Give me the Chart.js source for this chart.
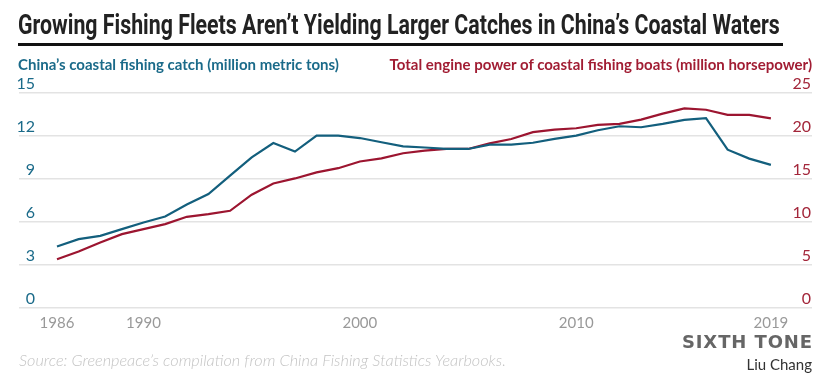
<!DOCTYPE html>
<html>
<head>
<meta charset="utf-8">
<script src="https://cdn.jsdelivr.net/npm/chart.js@4.4.1/dist/chart.umd.min.js"></script>
<style>
  html, body { margin: 0; padding: 0; background: #fff; }
  body { width: 830px; height: 385px; position: relative; overflow: hidden; font-family: Lato, sans-serif; }
  #title { position: absolute; left: 18px; top: 8px; font-family: Roboto, sans-serif; font-weight: bold; font-size: 28px; color: #222; white-space: nowrap; transform-origin: 0 0; }
  #rule { position: absolute; left: 18px; top: 43px; width: 765px; height: 3px; background: #111; }
  .sub { position: absolute; top: 55px; font-size: 15px; font-weight: bold; white-space: nowrap; }
  #subL { left: 18px; color: #1a6a89; }
  #subR { right: 18px; color: #a11d33; }
  #source { position: absolute; left: 19px; top: 350px; font-size: 16.3px; font-style: italic; font-weight: 300; color: #c4c4c4; white-space: nowrap; }
  #logo { position: absolute; right: 17px; top: 331px; font-family: "DejaVu Sans", sans-serif; font-weight: bold; font-size: 18px; letter-spacing: 0.9px; color: #666; white-space: nowrap; }
  #author { position: absolute; right: 18px; top: 355px; font-size: 15px; color: #333; white-space: nowrap; }
  #wrap { position: absolute; left: 0; top: 0; width: 830px; height: 385px; }
</style>
</head>
<body>
<div id="wrap"><canvas id="c" width="830" height="385"></canvas></div>
<div id="title">Growing Fishing Fleets Aren’t Yielding Larger Catches in China’s Coastal Waters</div>
<div id="rule"></div>
<div class="sub" id="subL">China’s coastal fishing catch (million metric tons)</div>
<div class="sub" id="subR">Total engine power of coastal fishing boats (million horsepower)</div>
<div id="source">Source: Greenpeace’s compilation from China Fishing Statistics Yearbooks.</div>
<div id="logo">SIXTH TONE</div>
<div id="author">Liu Chang</div>
<script>
const years = [1986,1987,1988,1989,1990,1991,1992,1993,1994,1995,1996,1997,1998,1999,2000,2001,2002,2003,2004,2005,2006,2007,2008,2009,2010,2011,2012,2013,2014,2015,2016,2017,2018,2019];
const catchMt = [4.28,4.79,5.02,5.49,5.95,6.37,7.2,7.93,9.21,10.49,11.48,10.89,12.0,12.0,11.83,11.54,11.25,11.17,11.07,11.07,11.37,11.37,11.5,11.77,12.0,12.37,12.65,12.58,12.82,13.1,13.21,11.02,10.4,9.96];
const enginePower = [5.66,6.55,7.6,8.57,9.15,9.73,10.58,10.9,11.28,13.14,14.45,15.03,15.73,16.22,17.0,17.35,17.95,18.26,18.45,18.45,19.1,19.6,20.4,20.7,20.85,21.25,21.36,21.85,22.55,23.15,23.0,22.4,22.4,22.0];
const xTickYears = [1986,1990,2000,2010,2019];
const leftTicks = [0,3,6,9,12,15];
const rightTicks = [0,5,10,15,20,25];

const BLUE = '#135f7d';
const RED = '#9c1530';

// fit the condensed-looking title to its original width
(function () {
  const t = document.getElementById('title');
  const w = t.offsetWidth;
  t.style.transform = 'scaleX(' + (762 / w) + ')';
})();

const tickLabels = {
  id: 'tickLabels',
  afterDraw(chart) {
    const ctx = chart.ctx;
    const yl = chart.scales.yL, yr = chart.scales.yR, x = chart.scales.x;
    const area = chart.chartArea;
    ctx.save();
    ctx.font = '16px Lato';
    ctx.textBaseline = 'alphabetic';
    ctx.textAlign = 'right';
    ctx.fillStyle = '#1a6a89';
    leftTicks.forEach(v => ctx.fillText(String(v), area.left + 16, yl.getPixelForValue(v) - 4));
    ctx.fillStyle = '#a3263a';
    rightTicks.forEach(v => ctx.fillText(String(v), area.right - 1, yr.getPixelForValue(v) - 4));
    ctx.textAlign = 'center';
    ctx.fillStyle = '#999';
    ctx.font = '15px Lato';
    xTickYears.forEach(v => ctx.fillText(String(v), x.getPixelForValue(v), area.bottom + 20));
    ctx.restore();
  }
};

new Chart(document.getElementById('c'), {
  type: 'line',
  data: {
    datasets: [
      { label: 'Catch', data: years.map((y, i) => ({x: y, y: catchMt[i]})), yAxisID: 'yL', borderColor: BLUE, borderWidth: 2.2, pointRadius: 0, tension: 0 },
      { label: 'Engine power', data: years.map((y, i) => ({x: y, y: enginePower[i]})), yAxisID: 'yR', borderColor: RED, borderWidth: 2.2, pointRadius: 0, tension: 0 }
    ]
  },
  options: {
    responsive: false,
    animation: false,
    events: [],
    layout: { padding: { left: 19, right: 18, top: 92.5, bottom: 69 } },
    plugins: { legend: { display: false }, tooltip: { enabled: false } },
    scales: {
      x: { type: 'linear', min: 1984.244, max: 2020.9, display: true, ticks: { display: false }, grid: { display: false }, border: { display: false } },
      yL: { position: 'left', min: 0, max: 15, ticks: { display: false, stepSize: 3 }, grid: { color: '#e3e3e3', lineWidth: 1.6, drawTicks: false }, border: { display: false } },
      yR: { position: 'right', min: 0, max: 25, ticks: { display: false, stepSize: 5 }, grid: { display: false, drawTicks: false }, border: { display: false } }
    }
  },
  plugins: [tickLabels]
});
</script>
</body>
</html>
